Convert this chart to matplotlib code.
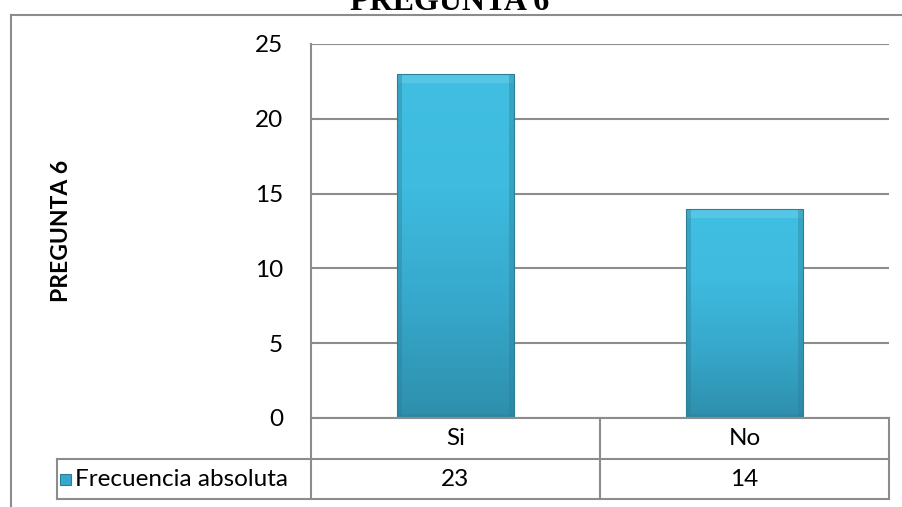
import numpy as np
import matplotlib
matplotlib.use("Agg")
import matplotlib.pyplot as plt
from matplotlib.lines import Line2D
from matplotlib.patches import Rectangle
from matplotlib.colors import LinearSegmentedColormap

# === DATA ===
categories = ["Si", "No"]
values = [23, 14]
series_name = "Frecuencia absoluta"
title = "PREGUNTA 6"
y_ticks = [0, 5, 10, 15, 20, 25]

W, H = 903, 507
fig = plt.figure(figsize=(W / 100, H / 100), dpi=100)
plt.rcParams['font.family'] = ['Lato', 'DejaVu Sans']
FS = 17.5


def fx(px):
    return px / W


def fy(py):
    return (H - py) / H


grid_col = "#8c8c8c"
bar_cmap = LinearSegmentedColormap.from_list("bar", ["#2e8fac", "#37a8cb", "#3ebbdf", "#41bfe2"])

# plot area (pixel positions)
left, right, top, bottom = 311, 889, 44, 418
ax = fig.add_axes([fx(left), fy(bottom), fx(right) - fx(left), fy(top) - fy(bottom)])
ax.set_xticks([])
ax.set_yticks(y_ticks)
ax.set_yticklabels([str(t) for t in y_ticks], fontsize=FS)
ax.tick_params(axis='y', length=0, pad=20)
for s in ["top", "right", "bottom"]:
    ax.spines[s].set_visible(False)
ax.spines["left"].set_color(grid_col)
ax.spines["left"].set_linewidth(1.5)
ax.yaxis.grid(True, color=grid_col, linewidth=1.5)
ax.set_axisbelow(True)

# bars with a vertical gradient and a light bevel
bar_w = 0.405
x = np.arange(len(categories))
bars = ax.bar(x, values, width=bar_w, color="none", edgecolor="#2a7f99", linewidth=0.8, zorder=4)
grad = np.linspace(0, 1, 256).reshape(-1, 1)
for rect, v in zip(bars, values):
    x0 = rect.get_x()
    im = ax.imshow(grad, cmap=bar_cmap, origin="lower", aspect="auto",
                   extent=[x0, x0 + bar_w, 0, v], zorder=2)
    im.set_clip_path(rect)
    ax.bar(x0 + bar_w / 2, 0.6, bottom=v - 0.6, width=bar_w,
           color="#6fd0ec", alpha=0.45, linewidth=0, zorder=3)
    for xs in (x0 + 0.009, x0 + bar_w - 0.009):
        ax.bar(xs, v, width=0.018, color="#2a7f99", alpha=0.4, linewidth=0, zorder=3)
    ax.bar(x0 + bar_w / 2, 0.3, bottom=0, width=bar_w,
           color="#2a7f99", alpha=0.4, linewidth=0, zorder=3)
ax.set_xlim(-0.5, len(categories) - 0.5)
ax.set_ylim(0, 25)

fig.text(fx(62), fy(231), title, rotation=90, ha="center", va="center",
         fontsize=16.5, fontweight="bold")

# data table below the plot
row1, row2, row3 = 418, 459, 499
tl, mid = 57, 600
lines = [
    ((left, right), (row1, row1)),
    ((tl, right), (row2, row2)),
    ((tl, right), (row3, row3)),
    ((tl, tl), (row2, row3)),
    ((left, left), (row1, row3)),
    ((mid, mid), (row1, row3)),
    ((right, right), (row1, row3)),
]
for xs, ys in lines:
    fig.add_artist(Line2D([fx(xs[0]), fx(xs[1])], [fy(ys[0]), fy(ys[1])],
                          transform=fig.transFigure, color=grid_col, linewidth=1.5))

col_centers = [left + (right - left) * (i + 0.5) / len(categories) for i in range(len(categories))]
for c, cat, v in zip(col_centers, categories, values):
    fig.text(fx(c), fy((row1 + row2) / 2), cat, ha="center", va="center", fontsize=FS)
    fig.text(fx(c), fy((row2 + row3) / 2), str(v), ha="center", va="center", fontsize=FS)

fig.add_artist(Rectangle((fx(60), fy(485)), fx(11), fy(474) - fy(485), transform=fig.transFigure,
                         facecolor="#37a8cb", edgecolor="#2a7f99", linewidth=0.8))
fig.text(fx(75), fy((row2 + row3) / 2), series_name, ha="left", va="center", fontsize=FS)

# outer chart frame
fig.add_artist(Line2D([fx(11), fx(11)], [fy(15), 0], transform=fig.transFigure,
                      color=grid_col, linewidth=1.5))
fig.add_artist(Line2D([fx(11), 1], [fy(15), fy(15)], transform=fig.transFigure,
                      color=grid_col, linewidth=1.5))

# title, cut off by the top edge as in the reference
fig.text(fx(450), fy(10), title, ha="center", va="baseline", fontsize=23,
         fontweight="bold", family="Liberation Serif")

fig.savefig("out.png", dpi=100)
